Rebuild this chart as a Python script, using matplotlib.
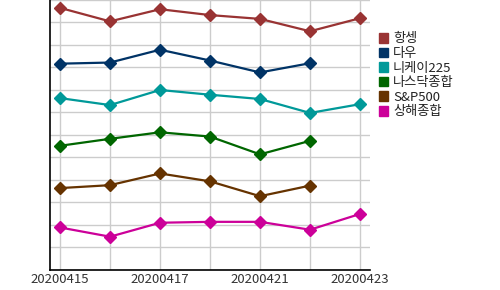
import matplotlib
matplotlib.use("Agg")
import matplotlib.pyplot as plt
from matplotlib.patches import Patch
import numpy as np

plt.rcParams['font.family'] = ['Noto Sans CJK KR', 'DejaVu Sans']

# dates (x categories)
dates = ['20200415', '20200416', '20200417', '20200420',
         '20200421', '20200422', '20200423']
tick_idx = [0, 2, 4, 6]

# index levels (normalised, no y labels shown)
names = ['항셍', '다우', '니케이225', '나스닥종합', 'S&P500', '상해종합']
hangseng = [11.65, 11.05, 11.59, 11.33, 11.16, 10.61, 11.19]
dow = [9.17, 9.22, 9.79, 9.31, 8.78, 9.19, np.nan]
nikkei = [7.64, 7.33, 8.00, 7.79, 7.60, 6.98, 7.37]
nasdaq = [5.52, 5.83, 6.12, 5.93, 5.14, 5.74, np.nan]
sp500 = [3.64, 3.77, 4.29, 3.94, 3.28, 3.75, np.nan]
shanghai = [1.89, 1.48, 2.10, 2.14, 2.14, 1.79, 2.49]

colors = ['#993333', '#003366', '#009999', '#006600', '#663300', '#CC0099']
series = [hangseng, dow, nikkei, nasdaq, sp500, shanghai]

fig = plt.figure(figsize=(5, 2.9), dpi=100)
ax = fig.add_axes([0.1, 0.069, 0.64, 0.931])

x = np.arange(len(dates))
for vals, c in zip(series, colors):
    ax.plot(x, vals, color=c, lw=1.6, marker='D', ms=6, mec=c, mfc=c)

ax.set_xlim(-0.2, 6.2)
ax.set_ylim(0.13, 12.0)
ax.set_yticks(range(0, 13))
ax.set_yticklabels([])
ax.set_xticks(x)
ax.set_xticklabels(['' if i not in tick_idx else d for i, d in enumerate(dates)])
ax.tick_params(axis='both', length=0, labelsize=9.5, labelcolor='#333333', pad=2)
ax.grid(True, color='#cccccc', lw=1)
ax.set_axisbelow(True)
for s in ['top', 'right']:
    ax.spines[s].set_visible(False)
for s in ['left', 'bottom']:
    ax.spines[s].set_color('black')
    ax.spines[s].set_linewidth(1.2)

handles = [Patch(facecolor=c, edgecolor=c) for c in colors]
fig.legend(handles, names, loc='upper left', bbox_to_anchor=(0.757, 0.888),
           frameon=False, fontsize=9.5, handlelength=0.75, handleheight=0.75,
           handletextpad=0.35, labelspacing=0.12, borderpad=0, borderaxespad=0,
           labelcolor='#222222')

fig.savefig('out.png', dpi=100)
